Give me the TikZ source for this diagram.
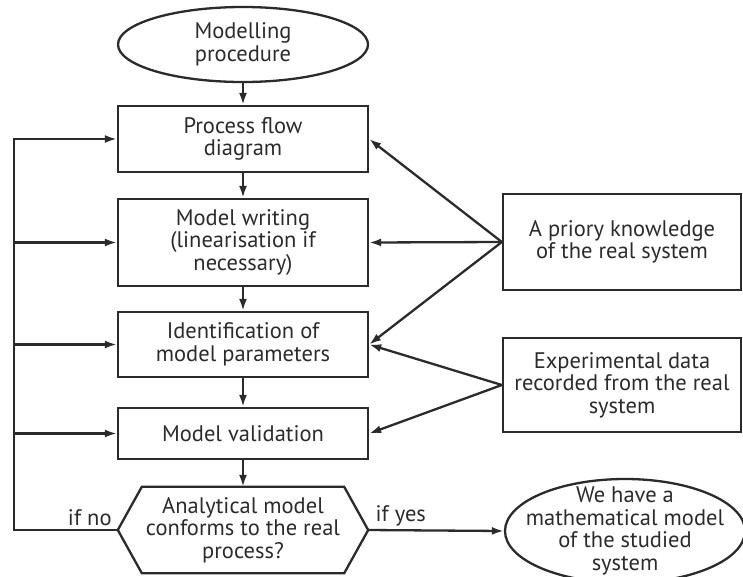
\documentclass[tikz,border=0pt]{standalone}
\usepackage{fontspec}
\setmainfont{PT Sans}
\usetikzlibrary{shapes.geometric,arrows.meta,calc}
\definecolor{ink}{HTML}{2B2B2B}
\tikzset{
  procbox/.style={draw=ink,line width=2.3pt,rectangle,minimum width=250pt,align=center,inner sep=0pt,text=ink,font=\fontsize{22.5pt}{22.5pt}\selectfont},
  infobox/.style={procbox,minimum width=238pt},
  endbox/.style={draw=ink,line width=2.3pt,ellipse,align=center,inner sep=0pt,text=ink,font=\fontsize{22.5pt}{22.5pt}\selectfont},
  hexbox/.style={rectangle,minimum width=250pt,minimum height=86pt,align=center,inner sep=0pt,text=ink,font=\fontsize{22.5pt}{22.5pt}\selectfont},
  edge/.style={draw=ink,line width=2.3pt},
  arrow/.style={edge,-{Latex[length=12pt,width=8pt]}},
  lbl/.style={text=ink,font=\fontsize{22.5pt}{22.5pt}\selectfont,inner sep=3pt}
}
\begin{document}
\begin{tikzpicture}[x=1pt,y=-1pt]
\useasboundingbox (0,0) rectangle (743,576);
%main column%
\node[endbox,minimum width=250pt,minimum height=75pt] (start) at (243,44.5) {Modelling\\procedure};
\node[procbox,minimum height=66pt] (flow) at (243,139) {Process flow\\diagram};
\node[procbox,minimum height=87pt] (writing) at (243,242.5) {Model writing\\(linearisation if\\necessary)};
\node[procbox,minimum height=65pt] (ident) at (243,344.5) {Identification of\\model parameters};
\node[procbox,minimum height=51pt] (valid) at (243,433.5) {Model validation};
\node[hexbox] (check) at (243,530) {Analytical model\\conforms to the real\\process?};
\draw[edge] (check.west) -- ($(check.north west)+(24,0)$) -- ($(check.north east)+(-24,0)$) -- (check.east)
  -- ($(check.south east)+(-24,0)$) -- ($(check.south west)+(24,0)$) -- cycle;
%outcome%
\node[endbox,inner xsep=-40pt,inner ysep=-30pt,minimum width=240pt,minimum height=104pt] (model) at (625,531) {We have a\\mathematical model\\of the studied\\system};
%knowledge sources%
\node[infobox,minimum height=96pt] (apriori) at (622,242) {A priory knowledge\\of the real system};
\node[infobox,minimum height=94pt] (expdata) at (622,385) {Experimental data\\recorded from the real\\system};
%flow%
\draw[arrow] (start) -- (flow);
\draw[arrow] (flow) -- (writing);
\draw[arrow] (writing) -- (ident);
\draw[arrow] (ident) -- (valid);
\draw[arrow] (valid) -- (check);
\draw[arrow] (check.east) -- node[lbl,above,pos=0.24] {if yes} (model.west);
%feedback loop%
\coordinate (loop) at (14,530);
\draw[arrow] (check.west) -- node[lbl,above,pos=0.27] {if no} (loop) |- (flow.west);
\draw[arrow] (loop |- writing.west) -- (writing.west);
\draw[arrow] (loop |- ident.west) -- (ident.west);
\draw[arrow] (loop |- valid.west) -- (valid.west);
%inputs%
\draw[arrow] (apriori.west) -- (flow.east);
\draw[arrow] (apriori.west) -- (writing.east);
\draw[arrow] (apriori.west) -- (ident.east);
\draw[arrow] (expdata.west) -- (ident.east);
\draw[arrow] (expdata.west) -- (valid.east);
\end{tikzpicture}
\end{document}
